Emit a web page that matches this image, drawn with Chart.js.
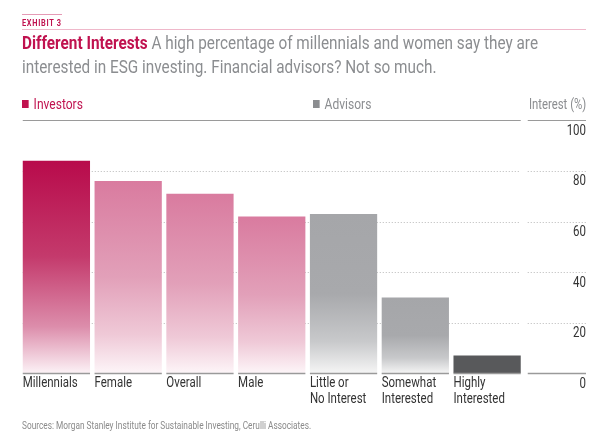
<!DOCTYPE html>
<html>
<head>
<meta charset="utf-8">
<script src="https://cdn.jsdelivr.net/npm/chart.js@4.4.1/dist/chart.umd.min.js"></script>
<style>
  body { margin: 0; background: #fff; }
  #wrap { position: relative; width: 606px; height: 438px; overflow: hidden; font-family: Roboto, "Noto Sans", sans-serif; }
  #chart { position: absolute; left: 0; top: 0; }
  .abs { position: absolute; white-space: nowrap; }
  .fit { transform-origin: 0 0; }
  #topline { left: 22px; top: 14px; width: 40px; height: 1px; background: #e59ab5; }
  #exhibit { left: 22px; top: 18px; font-size: 8.5px; font-weight: bold; color: #c0124f; letter-spacing: 0.8px; }
  #rule { left: 22px; top: 29px; width: 564px; height: 1px; background: #efb8ca; }
  .title { left: 22px; font-size: 18.5px; line-height: 24px; color: #8b8d90; }
  .title b { color: #c0124f; font-weight: bold; }
  .legend { top: 96px; font-size: 14.5px; line-height: 18px; }
  .legend i { display: inline-block; width: 8px; height: 8px; margin-right: 6px; vertical-align: 1px; }
  #src { left: 22px; top: 419px; font-size: 10.5px; color: #8a8a8a; }
</style>
</head>
<body>
<div id="wrap">
  <canvas id="chart" width="606" height="438"></canvas>
  <div class="abs" id="topline"></div>
  <div class="abs fit" id="exhibit" data-w="40">EXHIBIT 3</div>
  <div class="abs" id="rule"></div>
  <div class="abs fit title" id="t1" style="top:31px" data-w="516"><b>Different Interests</b> A high percentage of millennials and women say they are</div>
  <div class="abs fit title" id="t2" style="top:55px" data-s="t1">interested in ESG investing. Financial advisors? Not so much.</div>
  <div class="abs fit legend" style="left:22px;color:#c0124f" data-k="0.83"><i style="background:#c0124f"></i>Investors</div>
  <div class="abs fit legend" style="left:313px;color:#8b8d90" data-k="0.83"><i style="background:#8b8d90"></i>Advisors</div>
  <div class="abs fit legend" id="ilabel" style="left:529px;color:#8b8d90" data-w="57">Interest (%)</div>
  <div class="abs fit" id="src" data-w="289">Sources: Morgan Stanley Institute for Sustainable Investing, Cerulli Associates.</div>
</div>
<script>
// chart data
const categories = [["Millennials"], ["Female"], ["Overall"], ["Male"],
                    ["Little or", "No Interest"], ["Somewhat", "Interested"], ["Highly", "Interested"]];
const groups = ["Investors", "Investors", "Investors", "Investors", "Advisors", "Advisors", "Advisors"];
const interest = [84, 76, 71, 62, 63, 30, 7];
const yTicks = [0, 20, 40, 60, 80, 100];

const FONT = 'Roboto, "Noto Sans", sans-serif';
const SQUEEZE = 0.82; // condensed look for canvas text

// squeeze html texts horizontally to the widths in the picture
const scales = {};
document.querySelectorAll(".fit").forEach(el => {
  let k = 1;
  if (el.dataset.w) k = el.dataset.w / el.scrollWidth;
  if (el.dataset.k) k = +el.dataset.k;
  if (el.dataset.s) k = scales[el.dataset.s];
  scales[el.id] = k;
  el.style.transform = "scaleX(" + k + ")";
});

// gradient styles per bar (top -> baseline)
const pink = [[0, "#d97b9f"], [0.5, "#e2a0b9"], [0.8, "#efc9d7"], [1, "#fdf5f8"]];
const grey = [[0, "#a5a6a9"], [0.5, "#a8a9ac"], [0.8, "#c8c9cb"], [1, "#f5f5f5"]];
const barStyles = [
  [[0, "#b80b4b"], [0.45, "#c43a6c"], [0.78, "#dc8dab"], [1, "#fcf2f6"]],
  pink, pink, pink, grey, grey,
  [[0, "#58595b"], [1, "#58595b"]]
];

function barFill(ctx) {
  const chart = ctx.chart;
  const y = chart.scales.y;
  if (!y || !chart.chartArea) return "#ccc";
  const top = y.getPixelForValue(interest[ctx.dataIndex]);
  const base = y.getPixelForValue(0);
  const g = chart.ctx.createLinearGradient(0, top, 0, base);
  barStyles[ctx.dataIndex].forEach(s => g.addColorStop(s[0], s[1]));
  return g;
}

function squeezedText(c, text, x, y) {
  c.save();
  c.translate(x, y);
  c.scale(SQUEEZE, 1);
  c.fillText(text, 0, 0);
  c.restore();
}

// grid lines, baseline segments, tick and category labels
const decor = {
  id: "decor",
  beforeDatasetsDraw(chart) {
    const c = chart.ctx, y = chart.scales.y;
    const bars = chart.getDatasetMeta(0).data;
    const left = bars[0].x - bars[0].width / 2;
    const right = bars[bars.length - 1].x + bars[bars.length - 1].width / 2;
    c.save();
    y.ticks.forEach(t => {
      if (t.value === 0) return;
      const py = Math.round(y.getPixelForValue(t.value)) + 0.5;
      if (t.value === 100) {
        c.strokeStyle = "#9a9a9a"; c.lineWidth = 1.2; c.setLineDash([]);
      } else {
        c.strokeStyle = "#b8b8b8"; c.lineWidth = 1; c.setLineDash([1, 2]);
      }
      c.beginPath();
      c.moveTo(left, py); c.lineTo(right, py);
      c.moveTo(right + 7, py); c.lineTo(y.right, py);
      c.stroke();
    });
    c.restore();
  },
  afterDatasetsDraw(chart) {
    const c = chart.ctx, y = chart.scales.y;
    const bars = chart.getDatasetMeta(0).data;
    const py = Math.round(y.getPixelForValue(0)) + 0.5;
    const last = bars[bars.length - 1];
    c.save();
    c.strokeStyle = "#9a9a9a"; c.lineWidth = 1.5;
    c.beginPath();
    bars.forEach(b => { c.moveTo(b.x - b.width / 2, py); c.lineTo(b.x + b.width / 2, py); });
    c.moveTo(last.x + last.width / 2 + 7, py); c.lineTo(y.right, py);
    c.stroke();

    c.fillStyle = "#333";
    c.font = "14px " + FONT;
    c.textBaseline = "middle";
    c.textAlign = "left";
    bars.forEach((b, i) => {
      categories[i].forEach((line, k) => squeezedText(c, line, b.x - b.width / 2, py + 10 + k * 16));
    });
    c.textAlign = "right";
    y.ticks.forEach(t => {
      squeezedText(c, String(t.value), y.right, y.getPixelForValue(t.value) + 11);
    });
    c.restore();
  }
};

new Chart(document.getElementById("chart"), {
  type: "bar",
  data: {
    labels: categories.map(l => l.join(" ")),
    datasets: [{
      label: "Interest (%)",
      data: interest,
      backgroundColor: barFill,
      borderWidth: 0,
      categoryPercentage: 1,
      barPercentage: 0.937
    }]
  },
  options: {
    responsive: false,
    animation: false,
    layout: { padding: { left: 20.5, right: 20, top: 120.3, bottom: 64.7 } },
    plugins: { legend: { display: false }, tooltip: { enabled: false } },
    scales: {
      x: { display: false },
      y: {
        position: "right",
        min: 0, max: 100,
        afterFit: s => { s.width = 63; },
        afterBuildTicks: s => { s.ticks = yTicks.map(v => ({ value: v })); },
        grid: { display: false },
        border: { display: false },
        ticks: { display: false }
      }
    }
  },
  plugins: [decor]
});
</script>
</body>
</html>
